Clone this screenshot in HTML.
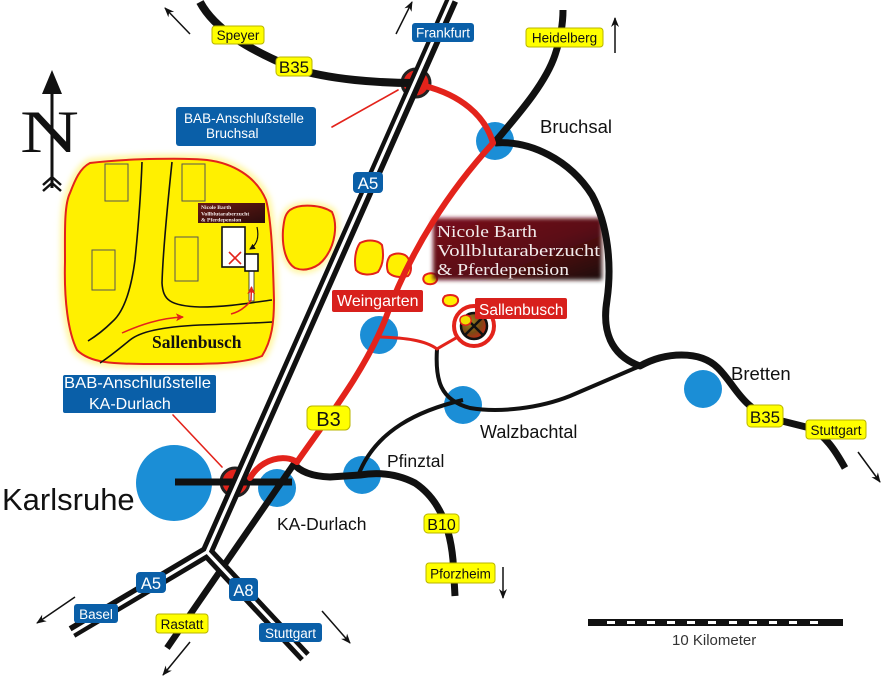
<!DOCTYPE html>
<html><head><meta charset="utf-8"><style>
html,body{margin:0;padding:0;background:#fff;}
svg{display:block;}
text{font-family:"Liberation Sans",sans-serif;}
.ser{font-family:"Liberation Serif",serif;}
</style></head><body>
<svg width="882" height="676" viewBox="0 0 882 676" xmlns="http://www.w3.org/2000/svg">
<defs>
<marker id="ah" markerWidth="10" markerHeight="10" refX="9" refY="5" orient="auto" markerUnits="userSpaceOnUse">
<path d="M0,1 L10,5 L0,9 L3,5 Z" fill="#111"/></marker>
<marker id="ahr" markerWidth="8" markerHeight="8" refX="7" refY="4" orient="auto" markerUnits="userSpaceOnUse">
<path d="M0,0 L8,4 L0,8 L2,4 Z" fill="#e3231b"/></marker>
<marker id="ahk" markerWidth="6" markerHeight="6" refX="5" refY="3" orient="auto" markerUnits="userSpaceOnUse">
<path d="M0,0 L6,3 L0,6 Z" fill="#111"/></marker>
<filter id="glow" x="-20%" y="-20%" width="140%" height="140%"><feGaussianBlur stdDeviation="3"/></filter>
<filter id="bl" x="-10%" y="-20%" width="120%" height="140%"><feGaussianBlur stdDeviation="2.2"/></filter>
<linearGradient id="mg" x1="0" y1="0" x2="1" y2="1">
<stop offset="0" stop-color="#7a0a1c"/><stop offset="0.55" stop-color="#5a0a14"/><stop offset="1" stop-color="#1c0808"/></linearGradient>
<linearGradient id="sg" x1="0" y1="0" x2="1" y2="1">
<stop offset="0" stop-color="#6a1a14"/><stop offset="1" stop-color="#2a0c0c"/></linearGradient>
<radialGradient id="cg" cx="0.35" cy="0.35" r="0.7">
<stop offset="0" stop-color="#9a8a20"/><stop offset="0.6" stop-color="#7a4a14"/><stop offset="1" stop-color="#c02818"/></radialGradient>
</defs>

<!-- yellow blobs with glow -->
<g>
<path d="M90,163 C130,158 190,158 207,160 C232,163 256,176 266,200 C272,222 273,265 274,300 C274,322 272,340 262,356 C240,365 200,364 150,364 C112,364 90,363 77,350 C68,332 64,300 65,262 C65,232 64,205 70,193 C75,180 80,168 90,163 Z" fill="#fff8a0" stroke="#fff6a0" stroke-width="9" filter="url(#glow)"/>
<path d="M90,163 C130,158 190,158 207,160 C232,163 256,176 266,200 C272,222 273,265 274,300 C274,322 272,340 262,356 C240,365 200,364 150,364 C112,364 90,363 77,350 C68,332 64,300 65,262 C65,232 64,205 70,193 C75,180 80,168 90,163 Z" fill="#fff000" stroke="#e3231b" stroke-width="2"/>
<path d="M290,210 C300,203 322,205 332,212 C338,225 335,245 325,258 C318,268 305,272 295,268 C285,262 282,245 283,230 C284,220 285,214 290,210 Z" fill="#fff6a0" stroke="#fff6a0" stroke-width="8" filter="url(#glow)"/>
<path d="M290,210 C300,203 322,205 332,212 C338,225 335,245 325,258 C318,268 305,272 295,268 C285,262 282,245 283,230 C284,220 285,214 290,210 Z" fill="#fff000" stroke="#e3231b" stroke-width="2"/>
<g fill="#fff000" stroke="#e3231b" stroke-width="2">
<path d="M360,243 C368,239 378,240 382,245 C384,255 383,265 378,272 C370,276 360,275 356,270 C354,262 355,250 360,243 Z"/>
<path d="M390,256 C396,252 405,253 408,258 C412,265 412,272 408,276 C400,278 392,277 388,272 C386,266 387,260 390,256 Z"/>
<path d="M425,275 C430,272 436,273 437,277 C438,282 434,285 428,284 C423,283 422,278 425,275 Z"/>
<path d="M445,296 C450,294 457,295 458,299 C459,304 454,307 448,306 C443,305 441,300 445,296 Z"/>
</g>
</g>

<!-- inset details -->
<g fill="none" stroke="#555" stroke-width="1">
<rect x="105" y="164" width="23" height="37"/>
<rect x="182" y="164" width="23" height="37"/>
<rect x="92" y="250" width="23" height="40"/>
<rect x="175" y="237" width="23" height="44"/>
</g>
<g fill="none" stroke="#111" stroke-width="1.6">
<path d="M142,162 C141,190 139,220 135,260 C131,290 124,312 112,322 C104,330 96,336 88,341"/>
<path d="M172,162 C168,200 163,250 162,283 C163,300 170,306 200,307 C230,307 255,302 272,300"/>
<path d="M100,363 C112,355 120,348 130,340 C140,332 160,327 200,325 C230,324 255,323 272,322"/>
</g>
<path d="M122,333 C140,325 160,318 183,317" fill="none" stroke="#e3231b" stroke-width="1.5" marker-end="url(#ahr)"/>
<rect x="222" y="227" width="23" height="40" fill="#fff" stroke="#111" stroke-width="1.6"/>
<path d="M229,252 L241,264 M241,252 L229,264" stroke="#e3231b" stroke-width="1.6"/>
<rect x="249" y="271" width="5" height="30" fill="#fff" stroke="#222" stroke-width="0.8"/>
<rect x="245" y="254" width="13" height="17" fill="#fff" stroke="#111" stroke-width="1.6"/>
<path d="M231,314 C243,311 250,302 251,300 L251.5,287" fill="none" stroke="#e3231b" stroke-width="1.5" marker-end="url(#ahr)"/>
<rect x="198" y="203" width="67" height="20" fill="url(#sg)"/>
<text class="ser" font-weight="bold" font-size="5.6" fill="#f4eaea"><tspan x="201" y="209">Nicole Barth</tspan><tspan x="201" y="215.5">Vollblutaraberzucht</tspan><tspan x="201" y="221.5">&amp; Pferdepension</tspan></text>
<path d="M257,227 C259,236 258,244 250,249" fill="none" stroke="#111" stroke-width="1.2" marker-end="url(#ahk)"/>
<text class="ser" x="152" y="348" font-size="17.5" font-weight="bold" fill="#111">Sallenbusch</text>

<!-- compass -->
<line x1="52" y1="90" x2="52" y2="188" stroke="#111" stroke-width="3"/>
<path d="M52,70 L62,94 L42,94 Z" fill="#111"/>
<path d="M43,185 L52,177 L61,185 M43,191 L52,183 L61,191" fill="none" stroke="#111" stroke-width="2.5"/>
<text class="ser" x="20" y="152" font-size="60" textLength="59" lengthAdjust="spacingAndGlyphs" fill="#111">N</text>

<!-- Nicole big box -->
<rect x="433" y="218" width="169" height="62" fill="url(#mg)" filter="url(#bl)"/>
<text class="ser" x="437" y="237" font-size="17" fill="#f2ecec" textLength="100" lengthAdjust="spacingAndGlyphs">Nicole Barth</text>
<text class="ser" x="437" y="256" font-size="17" fill="#f2ecec" textLength="163" lengthAdjust="spacingAndGlyphs">Vollblutaraberzucht</text>
<text class="ser" x="437" y="275" font-size="17" fill="#f2ecec" textLength="132" lengthAdjust="spacingAndGlyphs">&amp; Pferdepension</text>

<!-- blue town circles -->
<g fill="#1b8ed6">
<circle cx="174" cy="483" r="38"/>
<circle cx="495" cy="141" r="19"/>
<circle cx="379" cy="335" r="19"/>
<circle cx="463" cy="405" r="19"/>
<circle cx="362" cy="475" r="19"/>
<circle cx="277" cy="488" r="19"/>
<circle cx="703" cy="389" r="19"/>
</g>

<!-- junction circles -->
<circle cx="416" cy="83" r="14" fill="#e3231b" stroke="#222" stroke-width="3"/>
<circle cx="235" cy="482" r="14" fill="#e3231b" stroke="#222" stroke-width="3"/>

<!-- black roads -->
<g fill="none" stroke="#111" stroke-linecap="butt" stroke-linejoin="round">
<path d="M200,2 C215,30 250,50 293,68 C330,80 380,83 416,83" stroke-width="8"/>
<path d="M495,142 C515,118 545,85 555,55 C560,40 563,25 563,10" stroke-width="7"/>
<path d="M495,143 C530,140 570,160 592,195 C608,225 612,265 607,300 C602,330 610,355 640,366 C665,352 700,350 718,368 C735,385 740,405 770,418 L810,428 C825,435 835,450 845,468" stroke-width="7"/>
<path d="M437,349 C435,380 440,400 470,408 C500,413 540,408 570,396 L640,366" stroke-width="4"/>
<path d="M463,400 C420,410 375,430 358,476" stroke-width="4"/>
<path d="M175,482 L292,482" stroke-width="7"/>
<path d="M293,463 Q303,476 330,477 L360,475 Q390,470 415,483 Q448,505 453,560 L455,596" stroke-width="7"/>
<path d="M296,461 L167,648" stroke-width="6.5"/>
</g>

<!-- red roads -->
<g fill="none" stroke="#e3231b" stroke-linecap="round" stroke-linejoin="round">
<path d="M425,86 C460,95 485,115 493,143" stroke-width="6"/>
<path d="M493,143 C450,190 410,250 385,320 C365,370 330,415 297,462" stroke-width="6"/>
<path d="M297,462 C285,454 262,458 250,478" stroke-width="6"/>
<path d="M380,337 C405,338 425,340 437,349 C447,343 458,337 470,330" stroke-width="3"/>
<path d="M332,127 L398,90" stroke-width="1.6"/>
<path d="M173,415 L222,467" stroke-width="1.6"/>
</g>

<!-- Sallenbusch circle -->
<circle cx="474" cy="326" r="20" fill="#fff" stroke="#e3231b" stroke-width="4"/>
<circle cx="474" cy="326" r="13" fill="url(#cg)" stroke="#111" stroke-width="2.5"/>
<path d="M465,317 L483,335 M483,317 L465,335" stroke="#111" stroke-width="2.5"/>
<path d="M461,317 C465,314 470,315 471,319 C472,323 468,326 464,325 C460,324 459,320 461,317 Z" fill="#f0e000" stroke="#e3231b" stroke-width="1.5"/>

<!-- autobahn -->
<g fill="none" stroke="#111" stroke-width="13" stroke-linejoin="miter" stroke-linecap="butt">
<path d="M452,0 L207,552 L72,632"/>
<path d="M207,552 L305,657"/>
</g>
<g fill="none" stroke="#fff" stroke-width="3.2" stroke-linejoin="miter" stroke-linecap="butt">
<path d="M452,-2 L207,552 L70,634"/>
<path d="M207,552 L307,659"/>
</g>

<!-- arrows -->
<g stroke="#111" stroke-width="1.5" marker-end="url(#ah)">
<line x1="190" y1="34" x2="165" y2="8"/>
<line x1="396" y1="34" x2="412" y2="2"/>
<line x1="615" y1="53" x2="615" y2="18"/>
<line x1="858" y1="452" x2="880" y2="482"/>
<line x1="503" y1="567" x2="503" y2="598"/>
<line x1="322" y1="611" x2="350" y2="643"/>
<line x1="190" y1="642" x2="163" y2="675"/>
<line x1="75" y1="597" x2="37" y2="623"/>
</g>

<!-- yellow labels -->
<g fill="#ffff00" stroke="#b8b400" stroke-width="1">
<rect x="212" y="26" width="52" height="18" rx="3"/>
<rect x="276" y="57" width="36" height="19" rx="4"/>
<rect x="526" y="28" width="77" height="19" rx="3"/>
<rect x="307" y="406" width="43" height="24" rx="5"/>
<rect x="424" y="514" width="35" height="19" rx="4"/>
<rect x="426" y="563" width="69" height="20" rx="3"/>
<rect x="156" y="614" width="52" height="19" rx="3"/>
<rect x="747" y="405" width="36" height="22" rx="4"/>
<rect x="806" y="420" width="60" height="19" rx="3"/>
</g>
<g fill="#111" text-anchor="middle">
<text x="238" y="40" font-size="13.5">Speyer</text>
<text x="294" y="73" font-size="17">B35</text>
<text x="564.5" y="42.5" font-size="13.5">Heidelberg</text>
<text x="328.5" y="426" font-size="20">B3</text>
<text x="441.5" y="530" font-size="16">B10</text>
<text x="460.5" y="578.5" font-size="13.5">Pforzheim</text>
<text x="182" y="629" font-size="13.5">Rastatt</text>
<text x="765" y="423" font-size="17">B35</text>
<text x="836" y="435" font-size="13.5">Stuttgart</text>
</g>

<!-- blue labels -->
<g fill="#0a5fa8">
<rect x="412" y="23" width="62" height="19" rx="3"/>
<rect x="176" y="107" width="140" height="39" rx="3"/>
<rect x="353" y="172" width="30" height="21" rx="4"/>
<rect x="63" y="375" width="153" height="38" rx="2"/>
<rect x="136" y="572" width="30" height="21" rx="4"/>
<rect x="74" y="604" width="44" height="19" rx="3"/>
<rect x="229" y="578" width="29" height="23" rx="4"/>
<rect x="259" y="623" width="63" height="19" rx="3"/>
</g>
<g fill="#fff">
<text x="443" y="37.5" font-size="13.5" text-anchor="middle">Frankfurt</text>
<text x="184" y="123" font-size="13.5" textLength="120" lengthAdjust="spacingAndGlyphs">BAB-Anschlußstelle</text>
<text x="206" y="138" font-size="13.5">Bruchsal</text>
<text x="368" y="189" font-size="17" text-anchor="middle">A5</text>
<text x="64" y="388" font-size="16" textLength="147" lengthAdjust="spacingAndGlyphs">BAB-Anschlußstelle</text>
<text x="89" y="409" font-size="16">KA-Durlach</text>
<text x="151" y="589" font-size="16.5" text-anchor="middle">A5</text>
<text x="96" y="619" font-size="13.5" text-anchor="middle">Basel</text>
<text x="243.5" y="596" font-size="16.5" text-anchor="middle">A8</text>
<text x="290.5" y="638" font-size="13.5" text-anchor="middle">Stuttgart</text>
</g>

<!-- red labels -->
<rect x="332" y="290" width="91" height="22" rx="2" fill="#d8201c"/>
<rect x="475" y="298" width="92" height="21" rx="2" fill="#d8201c"/>
<text x="337" y="306" font-size="16" fill="#fff">Weingarten</text>
<text x="479" y="315" font-size="15.5" fill="#fff">Sallenbusch</text>

<!-- town names -->
<g fill="#111">
<text x="2" y="510" font-size="31">Karlsruhe</text>
<text x="540" y="133" font-size="18.5">Bruchsal</text>
<text x="731" y="380" font-size="18.5">Bretten</text>
<text x="480" y="438" font-size="18">Walzbachtal</text>
<text x="387" y="467" font-size="17.5">Pfinztal</text>
<text x="277" y="530" font-size="17.5">KA-Durlach</text>
</g>

<!-- scale bar -->
<rect x="588" y="619" width="255" height="7" fill="#111"/>
<g fill="#fff">
<rect x="607" y="621" width="8" height="3"/><rect x="627" y="621" width="8" height="3"/>
<rect x="647" y="621" width="8" height="3"/><rect x="667" y="621" width="8" height="3"/>
<rect x="687" y="621" width="8" height="3"/><rect x="708" y="621" width="8" height="3"/>
<rect x="729" y="621" width="8" height="3"/><rect x="749" y="621" width="8" height="3"/>
<rect x="769" y="621" width="8" height="3"/><rect x="789" y="621" width="8" height="3"/>
<rect x="810" y="621" width="8" height="3"/>
</g>
<text x="672" y="645" font-size="15" fill="#333">10 Kilometer</text>
</svg>
</body></html>
